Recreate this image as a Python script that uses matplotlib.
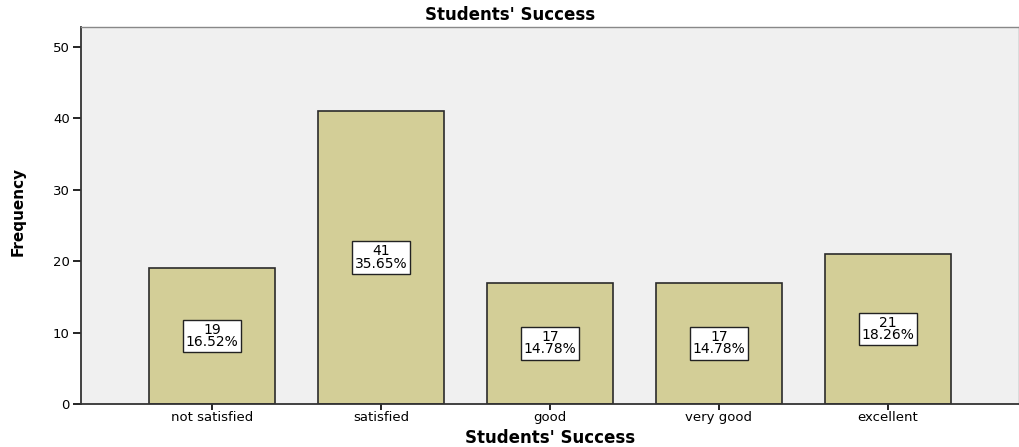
import matplotlib
matplotlib.use('Agg')
import matplotlib.pyplot as plt

plt.rcParams['font.family'] = ['DejaVu Sans']

# Data
categories = ['not satisfied', 'satisfied', 'good', 'very good', 'excellent']
counts = [19, 41, 17, 17, 21]
percents = ['16.52%', '35.65%', '14.78%', '14.78%', '18.26%']

fig = plt.figure(figsize=(10.2, 4.47), dpi=100)
ax = fig.add_axes([0.0794, 0.0962, 0.9196, 0.8434])
ax.set_facecolor('#f0f0f0')

x = range(len(categories))
ax.bar(x, counts, width=0.75, color='#d3ce97', edgecolor='#2b2b2b', linewidth=1.2)

# value + percent box in the middle of each bar
for i, (c, p) in enumerate(zip(counts, percents)):
    ax.text(i, c / 2, f'{c}\n{p}', ha='center', va='center', fontsize=10,
            linespacing=0.85,
            bbox=dict(boxstyle='square,pad=0.22', facecolor='white',
                      edgecolor='#222222', linewidth=1))

ax.set_xlim(-0.775, 4.775)
ax.set_ylim(0, 52.8)
ax.set_yticks([0, 10, 20, 30, 40, 50])
ax.set_xticks(list(x))
ax.set_xticklabels(categories)
ax.tick_params(axis='y', length=6, width=1.2, labelsize=9.5, pad=2)
ax.tick_params(axis='x', length=4, width=1.2, labelsize=9.5, pad=1)

for s in ['left', 'bottom']:
    ax.spines[s].set_color('#333333')
    ax.spines[s].set_linewidth(1.3)
for s in ['top', 'right']:
    ax.spines[s].set_color('#888888')
    ax.spines[s].set_linewidth(1)

fig.text(0.5, 1 - 15 / 447, "Students' Success", ha='center', va='center',
         fontsize=12, fontweight='bold')
ax.set_xlabel("Students' Success", fontsize=12, fontweight='bold')
ax.xaxis.set_label_coords(0.5, -0.09)
ax.xaxis.label.set_va('center')
ax.set_ylabel('Frequency', fontsize=11, fontweight='bold')
ax.yaxis.set_label_coords(-0.067, 0.512)
ax.yaxis.label.set_va('center')

fig.savefig('out.png', dpi=100)
